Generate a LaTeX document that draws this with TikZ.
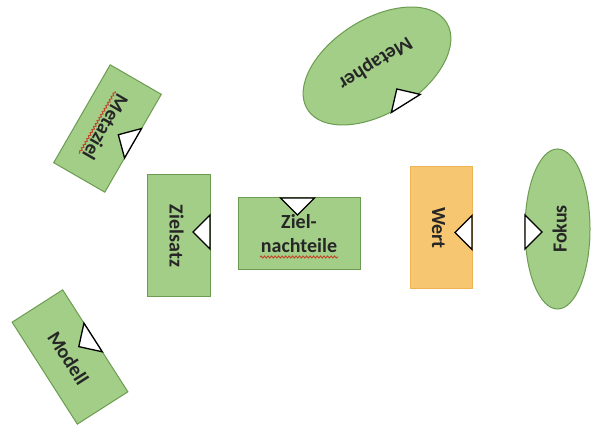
\documentclass[tikz,border=0pt]{standalone}
\usepackage{fontspec}
\setmainfont{Carlito}
\usetikzlibrary{shapes.geometric,decorations.pathmorphing}

\definecolor{boxgreen}{RGB}{162,206,136}
\definecolor{edgegreen}{RGB}{108,156,80}
\definecolor{boxorange}{RGB}{247,198,112}
\definecolor{edgeorange}{RGB}{238,180,84}
\definecolor{spellred}{RGB}{196,64,40}

\tikzset{
  shapebase/.style={draw, line width=1pt, transform shape, inner sep=0pt,
    font=\fontsize{20}{24}\selectfont\bfseries, text=black!85},
  greenrect/.style={shapebase, rectangle, fill=boxgreen, draw=edgegreen},
  orangerect/.style={shapebase, rectangle, fill=boxorange, draw=edgeorange},
  greenoval/.style={shapebase, ellipse, fill=boxgreen, draw=edgegreen},
  oneline/.style={text height=20pt, text depth=2pt},
  marker/.style={draw=black, fill=white, line width=1.3pt, line join=miter},
  spell/.style={draw=spellred, line width=0.9pt, decorate,
    decoration={snake, amplitude=1pt, segment length=3.5pt}}
}

% white triangle sitting on an edge (local y = #2), pointing inwards
\newcommand\edgemark[2]{%
  \draw[marker] ({#1-17},#2) -- ({#1+17},#2) -- (#1,{#2-17}) -- cycle;}

\begin{document}
\begin{tikzpicture}[x=1pt, y=1pt]
  \useasboundingbox[fill=white] (0,0) rectangle (593,425);

  % Metaziel
  \begin{scope}[shift={(107.5,296.5)}, rotate=-120]
    \node[greenrect, oneline, minimum width=113pt, minimum height=59pt] (metaziel) {Metaziel};
    \draw[spell] (-36,-12) -- (36,-12);
    \edgemark{0}{29.5}
  \end{scope}

  % Modell
  \begin{scope}[shift={(70,68)}, rotate=-57.4]
    \node[greenrect, oneline, minimum width=121pt, minimum height=60pt] (modell) {Modell};
    \edgemark{-4}{30}
  \end{scope}

  % Zielsatz
  \begin{scope}[shift={(178.5,189)}, rotate=-90]
    \node[greenrect, oneline, minimum width=122pt, minimum height=63pt] (zielsatz) {Zielsatz};
    \edgemark{-4}{31.5}
  \end{scope}

  % Ziel-nachteile
  \begin{scope}[shift={(299,191)}]
    \node[greenrect, align=center, minimum width=122pt, minimum height=72pt] (nachteile) {Ziel-\\nachteile};
    \draw[spell] (-39,-23) -- (39,-23);
    \edgemark{-1.5}{36}
  \end{scope}

  % Wert
  \begin{scope}[shift={(441,197)}, rotate=-90]
    \node[orangerect, oneline, minimum width=122pt, minimum height=62pt] (wert) {Wert};
    \edgemark{4.5}{31}
  \end{scope}

  % Fokus
  \begin{scope}[shift={(557.5,196)}, rotate=90]
    \node[greenoval, oneline, minimum width=160pt, minimum height=65pt] (fokus) {Fokus};
    \edgemark{-3}{32.5}
  \end{scope}

  % Metapher
  \begin{scope}[shift={(377,359)}, rotate=212]
    \node[greenoval, oneline, minimum width=164pt, minimum height=94pt] (metapher) {Metapher};
    \edgemark{-4.6}{47}
  \end{scope}
\end{tikzpicture}
\end{document}
